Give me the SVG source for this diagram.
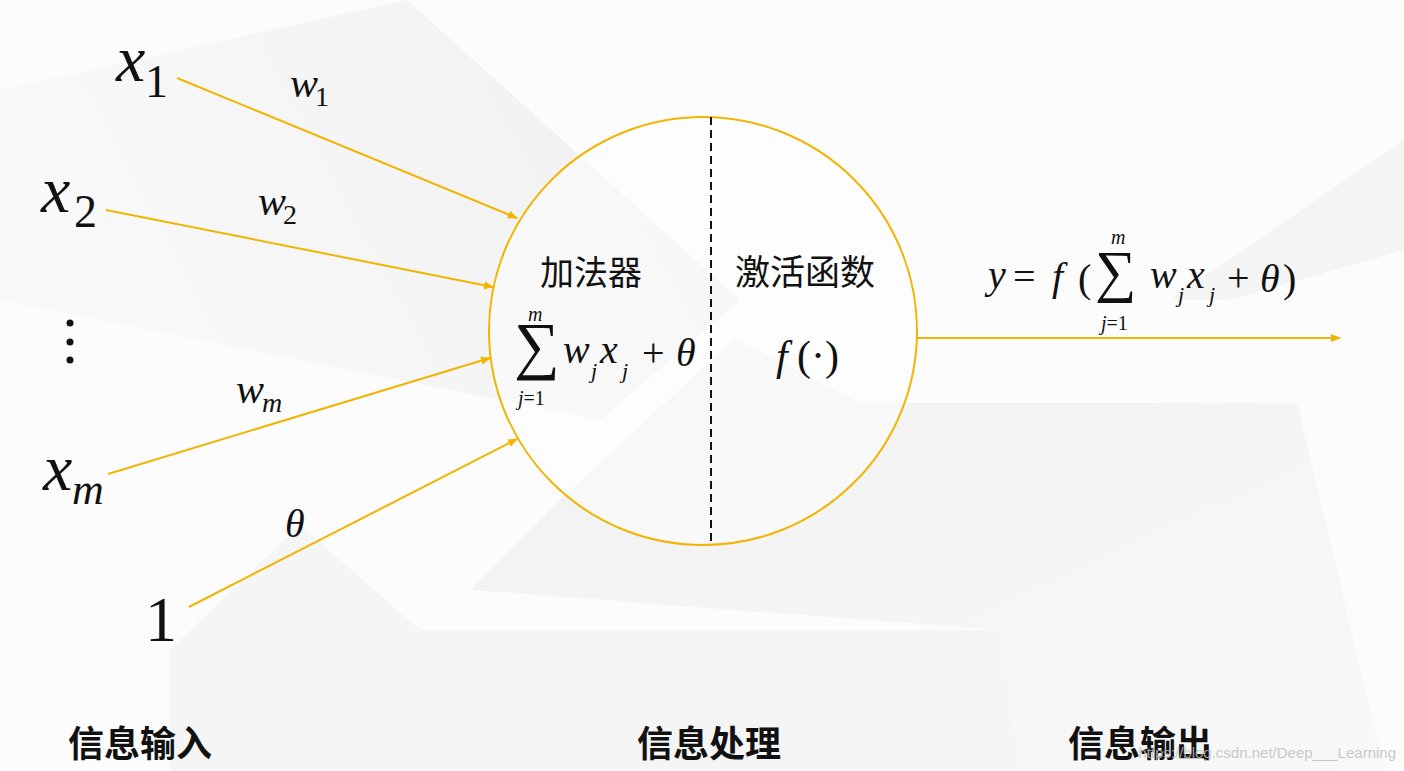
<svg xmlns="http://www.w3.org/2000/svg" width="1404" height="771" viewBox="0 0 1404 771">
<style>
.m{font-family:"Liberation Serif","DejaVu Serif",serif;fill:#111}
.i{font-style:italic}
.cn{font-family:"Noto Sans CJK SC","Noto Sans",sans-serif;fill:#111}
.b{font-weight:700}
.link{stroke:#f2b400;stroke-width:2;fill:none}
</style>
<defs>
<marker id="ah" viewBox="0 0 10 10" refX="9" refY="5" markerWidth="10" markerHeight="10" markerUnits="userSpaceOnUse" orient="auto">
<path d="M0,1 L10,5 L0,9 z" fill="#f2b400"/>
</marker>
<linearGradient id="g1" x1="1" y1="0" x2="0" y2="0.3">
<stop offset="0" stop-color="#efefef"/>
<stop offset="1" stop-color="#f9f9f9"/>
</linearGradient>
<linearGradient id="g2" x1="0" y1="0" x2="1" y2="1">
<stop offset="0" stop-color="#f1f1f1"/>
<stop offset="1" stop-color="#f8f8f8"/>
</linearGradient>
</defs>
<g id="background">
<rect width="1404" height="771" fill="#fcfcfc"/>
<polygon points="0,90 407,0 740,300 600,420 0,300" fill="url(#g1)"/>
<polygon points="735,338 860,403 1297,403 1385,771 1020,771 1000,630 470,590 560,500" fill="url(#g2)"/>
<polygon points="300,525 420,630 1000,630 1020,771 170,771 170,650" fill="#f5f5f5"/>
<polygon points="1404,140 1404,250 1230,300 1170,300" fill="#f4f4f4"/>
</g>
<g id="connectors">
<line class="link" x1="177" y1="78" x2="517" y2="218" marker-end="url(#ah)"/>
<line class="link" x1="106" y1="210" x2="493" y2="287" marker-end="url(#ah)"/>
<line class="link" x1="108" y1="474" x2="490" y2="358" marker-end="url(#ah)"/>
<line class="link" x1="189" y1="607" x2="517" y2="439" marker-end="url(#ah)"/>
<line class="link" x1="917" y1="338" x2="1340" y2="338" marker-end="url(#ah)"/>
</g>
<g id="neuron">
<circle cx="703" cy="331" r="214" fill="#ffffff" fill-opacity="0.45" stroke="#f2b400" stroke-width="2"/>
<line x1="711" y1="117" x2="711" y2="545" stroke="#111" stroke-width="2" stroke-dasharray="8,5"/>
<text class="cn" x="540" y="285" font-size="34">加法器</text>
<text class="cn" x="735" y="285" font-size="35">激活函数</text>
<text class="m" x="514" y="367" font-size="64">∑</text>
<text class="m i" x="528" y="321" font-size="20">m</text>
<text class="m" x="518" y="405" font-size="20"><tspan font-style="italic">j</tspan>=1</text>
<text class="m i" x="563" y="363" font-size="40">w</text>
<text class="m i" x="591" y="378" font-size="22">j</text>
<text class="m i" x="600" y="363" font-size="40">x</text>
<text class="m i" x="622" y="378" font-size="22">j</text>
<text class="m" x="642" y="366" font-size="40">+</text>
<text class="m i" x="676" y="366" font-size="40">θ</text>
<text class="m i" x="776" y="370" font-size="42">f</text>
<text class="m" x="797" y="370" font-size="42">(·)</text>
</g>
<g id="input-x1">
<text class="m i" x="116" y="81" font-size="66">x</text>
<text class="m" x="145" y="97" font-size="46">1</text>
<text class="m i" x="290" y="97" font-size="42">w</text>
<text class="m" x="315" y="106" font-size="28">1</text>
</g>
<g id="input-x2">
<text class="m i" x="41" y="212" font-size="66">x</text>
<text class="m" x="74" y="227" font-size="46">2</text>
<text class="m i" x="258" y="215" font-size="42">w</text>
<text class="m" x="283" y="224" font-size="28">2</text>
</g>
<g id="ellipsis">
<circle cx="70" cy="323" r="3.5" fill="#111"/>
<circle cx="70" cy="342" r="3.5" fill="#111"/>
<circle cx="70" cy="360" r="3.5" fill="#111"/>
</g>
<g id="input-xm">
<text class="m i" x="43" y="490" font-size="66">x</text>
<text class="m i" x="72" y="504" font-size="44">m</text>
<text class="m i" x="236" y="403" font-size="42">w</text>
<text class="m i" x="262" y="412" font-size="28">m</text>
</g>
<g id="input-bias">
<text class="m" x="145" y="641" font-size="64">1</text>
<text class="m i" x="285" y="537" font-size="40">θ</text>
</g>
<g id="output">
<text class="m i" x="988" y="288" font-size="40">y</text>
<text class="m" x="1013" y="290" font-size="40">=</text>
<text class="m i" x="1052" y="290" font-size="40">f</text>
<text class="m" x="1078" y="292" font-size="40">(</text>
<text class="m" x="1095" y="291" font-size="58">∑</text>
<text class="m i" x="1111" y="244" font-size="20">m</text>
<text class="m" x="1101" y="330" font-size="20"><tspan font-style="italic">j</tspan>=1</text>
<text class="m i" x="1150" y="288" font-size="40">w</text>
<text class="m i" x="1178" y="302" font-size="22">j</text>
<text class="m i" x="1187" y="288" font-size="40">x</text>
<text class="m i" x="1209" y="302" font-size="22">j</text>
<text class="m" x="1227" y="291" font-size="40">+</text>
<text class="m i" x="1260" y="292" font-size="40">θ</text>
<text class="m" x="1283" y="292" font-size="40">)</text>
</g>
<g id="labels">
<text class="cn b" x="68" y="757" font-size="36">信息输入</text>
<text class="cn b" x="637" y="757" font-size="36">信息处理</text>
<text class="cn b" x="1068" y="757" font-size="36">信息输出</text>
<text x="1396" y="758" font-size="15" text-anchor="end" font-family="Liberation Sans,Arial,sans-serif" fill="#bdbdbd" fill-opacity="0.85">https://blog.csdn.net/Deep___Learning</text>
</g>
</svg>
